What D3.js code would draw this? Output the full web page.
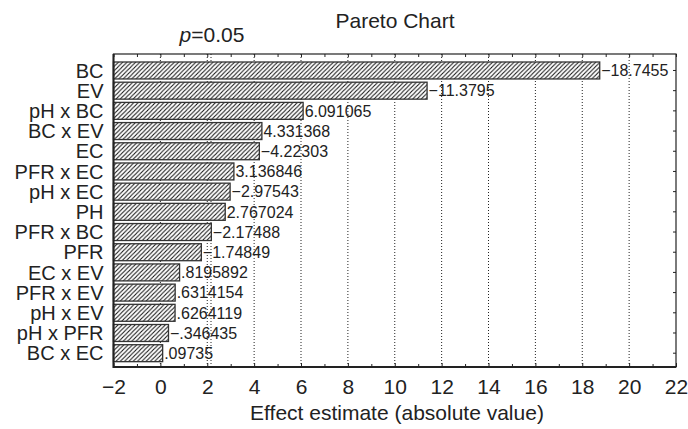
<!DOCTYPE html>
<html>
<head>
<meta charset="utf-8">
<script src="https://cdn.jsdelivr.net/npm/d3@7"></script>
<style>
  body { margin: 0; background: #fff; }
  svg text { font-family: "Liberation Sans", Arial, Helvetica, sans-serif; fill: #222; }
</style>
</head>
<body>
<svg id="chart" width="688" height="429"></svg>
<script>
// effects, sorted as in the chart
const effects = ["BC", "EV", "pH x BC", "BC x EV", "EC", "PFR x EC", "pH x EC", "PH",
  "PFR x BC", "PFR", "EC x EV", "PFR x EV", "pH x EV", "pH x PFR", "BC x EC"];
const estimates = [-18.7455, -11.3795, 6.091065, 4.331368, -4.22303, 3.136846, -2.97543, 2.767024,
  -2.17488, -1.74849, 0.8195892, 0.6314154, 0.6264119, -0.346435, 0.09735];
const valueLabels = ["−18.7455", "−11.3795", "6.091065", "4.331368", "−4.22303", "3.136846", "−2.97543", "2.767024",
  "−2.17488", "−1.74849", ".8195892", ".6314154", ".6264119", "−.346435", ".09735"];
const xTicks = [-2, 0, 2, 4, 6, 8, 10, 12, 14, 16, 18, 20, 22];
const pCritical = 2.16;

const svg = d3.select("#chart");
const plotLeft = 113.5, plotRight = 676, plotTop = 54, plotBottom = 367;

const x = d3.scaleLinear().domain([-2, 22]).range([plotLeft, plotRight]);
const y = d3.scaleBand().domain(effects).range([plotTop, plotBottom])
  .paddingInner(0.16).paddingOuter(0.33).align(0.6);

// hatch pattern
const hp = 4.3;
const pat = svg.append("defs").append("pattern")
  .attr("id", "hatch")
  .attr("patternUnits", "userSpaceOnUse")
  .attr("width", hp).attr("height", hp);
pat.append("rect").attr("width", hp).attr("height", hp).attr("fill", "#fff");
pat.append("path")
  .attr("d", `M-1,1 L1,-1 M0,${hp} L${hp},0 M${hp - 1},${hp + 1} L${hp + 1},${hp - 1}`)
  .attr("stroke", "#111").attr("stroke-width", 1.05);

// gridlines
const grid = d3.range(0, 21, 2);
svg.append("g").selectAll("line")
  .data(grid.concat([pCritical]))
  .join("line")
    .attr("x1", d => x(d)).attr("x2", d => x(d))
    .attr("y1", plotTop).attr("y2", plotBottom)
    .attr("stroke", "#222").attr("stroke-width", 1)
    .attr("stroke-dasharray", "1,2");

// bars (start at the left edge of the axis)
svg.append("g").selectAll("rect")
  .data(effects)
  .join("rect")
    .attr("x", x(-2))
    .attr("y", d => y(d))
    .attr("width", (d, i) => x(Math.abs(estimates[i])) - x(-2))
    .attr("height", y.bandwidth())
    .attr("fill", "url(#hatch)")
    .attr("stroke", "#333").attr("stroke-width", 1.3);

// value labels
svg.append("g").selectAll("text")
  .data(effects)
  .join("text")
    .attr("x", (d, i) => x(Math.abs(estimates[i])) + 1.5)
    .attr("y", d => y(d) + y.bandwidth() / 2 + 5.8)
    .attr("font-size", 16)
    .text((d, i) => valueLabels[i]);

// axes
const bottomAxis = svg.append("g")
  .attr("transform", `translate(0,${plotBottom})`)
  .call(d3.axisBottom(x).tickValues(xTicks).tickSizeInner(-4).tickSizeOuter(0).tickPadding(12));
bottomAxis.selectAll("text").attr("font-size", 21);

svg.append("g")
  .attr("transform", `translate(0,${plotBottom})`)
  .call(d3.axisBottom(x).tickValues(d3.range(-1, 22, 2)).tickFormat("").tickSizeInner(-3).tickSizeOuter(0));

svg.append("g")
  .attr("transform", `translate(0,${plotTop})`)
  .call(d3.axisTop(x).ticks(24).tickFormat("").tickSizeInner(-3).tickSizeOuter(0));

svg.append("g")
  .attr("transform", `translate(${plotRight},0)`)
  .call(d3.axisRight(y).tickFormat("").tickSizeInner(-3).tickSizeOuter(0));

const leftAxis = svg.append("g")
  .attr("transform", `translate(${plotLeft},0)`)
  .call(d3.axisLeft(y).tickSize(0).tickPadding(10));
leftAxis.selectAll("text").attr("font-size", 20).attr("dy", "0.36em");

svg.selectAll(".domain").remove();
svg.selectAll(".tick line").attr("stroke", "#222");

// frame
svg.append("rect")
  .attr("x", plotLeft).attr("y", plotTop)
  .attr("width", plotRight - plotLeft).attr("height", plotBottom - plotTop)
  .attr("fill", "none").attr("stroke", "#222").attr("stroke-width", 1.2);
svg.append("path")
  .attr("d", `M${plotLeft},${plotTop} V${plotBottom} H${plotRight}`)
  .attr("fill", "none").attr("stroke", "#222").attr("stroke-width", 2);

// titles
svg.append("text")
  .attr("x", 395).attr("y", 28)
  .attr("text-anchor", "middle").attr("font-size", 21)
  .text("Pareto Chart");

const pText = svg.append("text")
  .attr("x", 212).attr("y", 42)
  .attr("text-anchor", "middle").attr("font-size", 21);
pText.append("tspan").attr("font-style", "italic").text("p");
pText.append("tspan").text("=0.05");

svg.append("text")
  .attr("x", 397).attr("y", 420)
  .attr("text-anchor", "middle").attr("font-size", 21)
  .text("Effect estimate (absolute value)");
</script>
</body>
</html>
